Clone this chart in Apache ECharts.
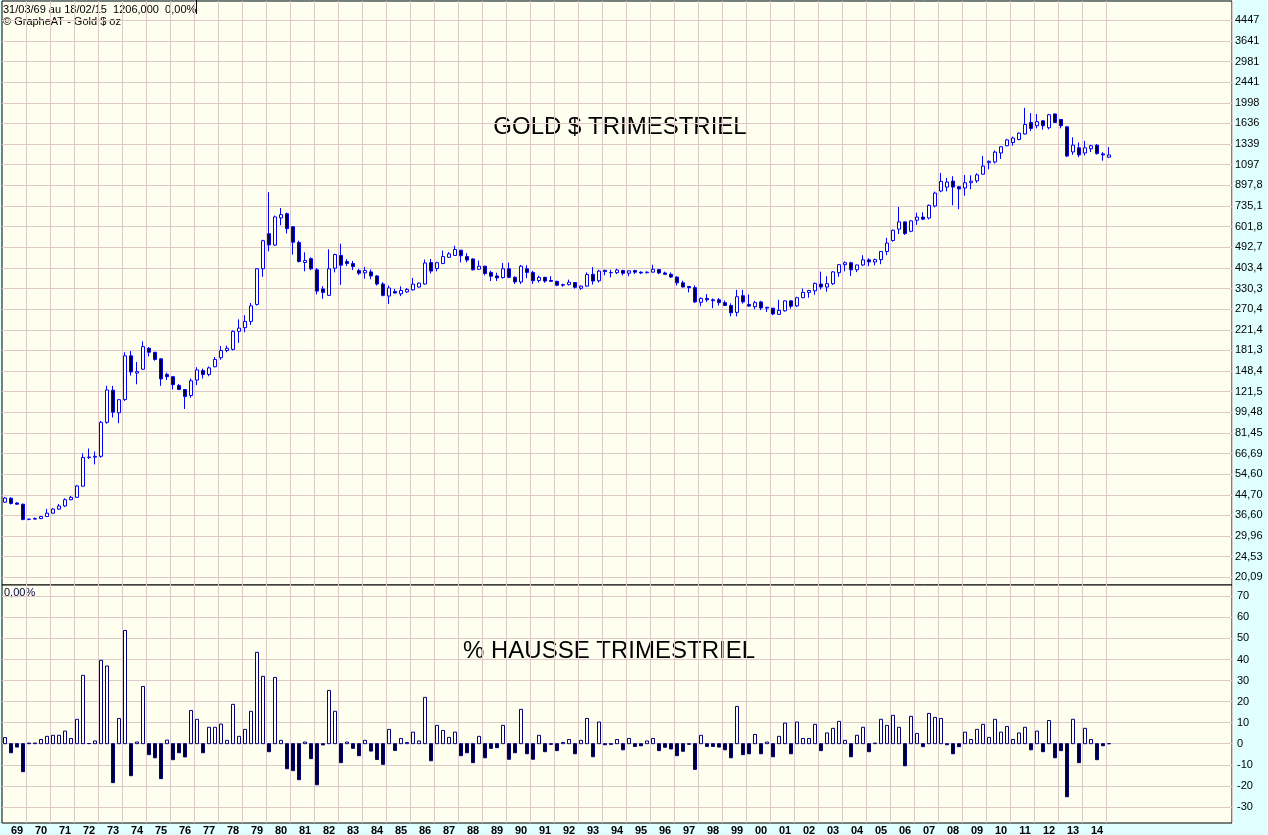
<!DOCTYPE html>
<html><head><meta charset="utf-8">
<script src="https://cdn.jsdelivr.net/npm/echarts@6/dist/echarts.min.js"></script>
<style>html,body{margin:0;padding:0;background:#E0FFFF;}#c{width:1268px;height:835px;}</style>
</head><body><div id="c"></div><script>
// ---- data (quarterly, 1969 Q1 .. 2015 Q1) ----
const yearLabels = ['69','70','71','72','73','74','75','76','77','78','79','80','81','82','83','84','85','86','87','88','89','90','91','92','93','94','95','96','97','98','99','00','01','02','03','04','05','06','07','08','09','10','11','12','13','14'];
const open = [41.6,43.2,41.3,40.8,35.2,35.3,35.5,36.2,37.4,38.9,40.1,42.6,43.6,48.6,64.2,64.4,64.9,90.2,123.3,99.0,112.5,172.0,145.5,151.0,185.0,178.0,167.0,143.6,140.5,129.0,124.0,117.0,136.0,149.0,143.5,154.6,168.8,181.0,183.0,218.0,226.0,240.0,283.0,400.0,562.0,503.0,655.0,682.0,601.0,516.0,425.0,441.0,396.0,329.0,309.0,402.0,455.0,429.0,420.6,393.0,384.4,388.0,373.0,345.0,307.0,321.0,313.6,319.7,326.0,335.0,345.0,425.0,401.0,421.0,447.0,455.0,479.0,450.0,440.0,398.0,410.0,386.0,373.0,367.0,400.0,368.0,352.0,400.0,386.0,357.0,368.0,357.0,354.0,341.0,343.0,350.0,331.0,338.0,379.0,356.0,394.0,385.0,385.0,393.0,383.0,393.0,387.0,385.0,387.0,397.0,384.0,379.0,369.0,349.0,337.0,333.0,289.0,300.0,296.0,296.0,288.0,280.0,262.0,308.0,283.0,277.0,290.0,273.0,273.0,257.0,266.0,293.0,279.0,302.0,318.0,323.0,345.0,335.0,346.0,385.0,416.0,424.0,396.0,415.0,436.0,427.0,437.0,473.0,526.0,587.0,630.0,575.0,640.0,660.0,654.0,735.0,850.0,883.0,936.0,886.0,875.0,921.0,938.0,1000.0,1118.0,1126.0,1229.0,1318.0,1360.0,1401.0,1477.0,1652.0,1600.0,1678.0,1569.0,1795.0,1700.0,1584.0,1241.0,1292.0,1229.0,1280.0,1326.0,1218.0,1180.0];
const high = [43.7,43.7,41.6,41.0,35.5,35.9,36.4,39.0,39.3,40.9,43.2,44.2,49.2,66.8,70.0,68.0,91.5,128.5,128.5,113.0,178.0,180.0,162.0,198.0,187.0,178.5,168.0,146.0,141.0,131.0,124.5,138.0,154.0,152.0,155.0,170.0,189.0,190.0,220.0,245.0,255.0,287.0,402.0,530.0,840.0,670.0,721.0,690.0,605.0,525.0,469.0,447.0,403.0,338.0,483.0,463.0,510.0,439.0,431.6,400.0,407.6,397.0,376.0,351.0,340.0,329.0,337.5,332.0,366.0,350.0,437.0,440.0,428.0,477.0,470.0,500.0,480.0,465.0,442.0,433.0,412.0,393.0,385.0,423.0,425.0,372.0,415.0,414.0,392.0,374.0,370.0,372.0,356.0,346.0,360.0,351.0,340.0,386.0,406.0,396.0,396.0,396.0,400.0,396.0,394.0,396.0,390.0,390.0,416.0,399.0,389.0,386.0,372.0,356.0,337.0,340.0,303.0,313.0,300.0,301.0,294.0,286.0,326.0,326.0,312.0,293.0,293.0,275.0,273.0,296.0,294.0,294.0,305.0,330.0,326.0,350.0,389.0,372.0,391.0,418.0,430.0,428.0,416.0,456.0,443.0,441.0,474.0,540.0,585.0,728.0,632.0,640.0,689.0,691.0,745.0,845.0,1013.0,965.0,981.0,890.0,994.0,990.0,1010.0,1195.0,1144.0,1260.0,1310.0,1410.0,1440.0,1500.0,1904.0,1810.0,1792.0,1690.0,1795.0,1800.0,1700.0,1590.0,1431.0,1361.0,1382.0,1330.0,1340.0,1240.0,1300.0];
const low = [41.4,40.7,40.6,34.9,34.9,35.2,35.3,36.1,37.2,38.7,39.7,42.4,43.4,48.3,63.2,60.0,64.0,89.0,94.5,89.5,111.0,142.0,130.5,150.0,171.0,164.0,128.5,136.0,124.0,123.5,102.7,114.5,129.5,138.0,141.0,154.0,165.5,178.0,181.0,195.0,216.0,232.0,280.0,370.0,473.0,500.0,610.0,563.0,459.0,425.0,390.0,395.0,312.0,299.0,308.0,386.0,342.0,411.0,395.0,376.0,363.0,361.0,340.0,306.0,284.0,315.0,306.7,316.6,324.0,333.0,343.0,382.0,390.0,418.0,445.0,453.0,425.0,426.0,394.0,396.0,375.0,355.0,355.0,364.0,365.0,345.0,345.0,365.0,345.0,350.0,349.0,352.0,338.0,336.0,340.0,330.0,326.0,336.0,343.0,350.0,375.0,368.0,380.0,375.0,372.0,380.0,380.0,382.0,385.0,380.0,377.0,366.0,340.0,334.0,318.0,287.0,278.0,290.0,273.0,280.0,280.0,252.0,252.0,285.0,276.0,270.0,268.0,263.0,255.0,256.0,264.0,272.0,276.0,301.0,302.0,311.0,327.0,320.0,342.0,370.0,390.0,373.0,387.0,411.0,410.0,413.0,418.0,456.0,520.0,560.0,555.0,570.0,612.0,642.0,645.0,725.0,840.0,847.0,740.0,712.0,812.0,865.0,920.0,995.0,1048.0,1110.0,1160.0,1310.0,1318.0,1390.0,1470.0,1519.0,1560.0,1540.0,1545.0,1650.0,1560.0,1180.0,1208.0,1180.0,1200.0,1240.0,1210.0,1140.0,1170.0];
const close = [43.3,41.1,40.8,35.2,35.3,35.5,36.2,37.4,38.9,40.1,42.6,43.6,48.7,64.2,64.4,64.9,90.2,123.5,99.5,112.4,172.0,147.0,147.5,188.0,178.0,166.0,137.5,140.5,130.0,124.0,116.0,135.0,150.0,143.5,153.0,166.0,181.0,185.0,218.0,225.0,240.0,279.0,400.0,525.0,504.0,661.0,676.0,590.0,517.0,429.0,433.0,399.5,322.0,318.0,400.0,459.0,414.0,421.0,408.6,383.0,393.0,373.0,345.0,309.0,332.0,316.0,323.8,327.0,344.6,348.0,423.0,391.0,424.0,450.0,462.0,482.0,454.0,435.0,396.0,410.0,382.0,372.0,366.0,400.0,368.0,352.0,410.0,386.0,356.0,368.0,355.0,354.0,341.0,343.0,351.0,334.0,338.0,378.0,355.0,391.0,389.0,386.0,395.0,383.0,392.0,387.0,384.0,387.0,398.0,384.0,379.0,369.0,349.0,335.0,333.0,290.0,300.0,296.0,293.5,288.0,280.0,261.0,305.0,290.0,278.4,288.0,273.6,275.5,258.0,267.0,293.0,278.0,302.0,318.0,324.0,347.0,335.0,346.0,388.0,416.0,424.0,396.0,415.0,436.0,427.5,437.0,473.0,513.0,581.0,630.0,563.0,636.0,660.0,647.0,740.0,833.0,933.0,927.0,883.0,867.0,921.0,935.0,994.0,1082.0,1133.0,1239.0,1305.0,1395.0,1420.0,1489.0,1620.0,1559.0,1665.0,1600.0,1780.0,1652.0,1600.0,1193.0,1326.0,1206.0,1292.0,1318.0,1222.0,1206.0,1206.0];
const pct = [2.9,-4.3,-1.6,-13.3,0.3,0.3,2.0,3.5,4.0,4.0,6.0,2.5,11.6,32.5,0.1,1.3,39.6,36.9,-18.5,12.0,53.8,-15.2,0.8,27.2,-5.2,-6.7,-16.6,1.7,-7.6,-4.3,-6.3,15.8,11.6,-4.3,7.8,7.8,9.3,1.6,18.7,3.5,6.8,15.4,43.4,32.0,-3.8,31.5,1.6,-11.9,-12.8,-17.1,0.8,-7.1,-19.5,-0.6,25.3,15.4,-9.0,0.8,-2.2,-5.7,1.6,-3.5,-7.5,-9.8,6.8,-3.2,2.5,0.6,5.5,1.3,22.0,-8.1,8.7,6.3,3.0,5.5,-5.7,-4.3,-9.0,3.5,-6.7,-2.2,-1.9,8.7,-7.4,-4.3,16.3,-4.8,-7.4,4.0,-3.8,-0.3,-3.3,0.6,2.0,-4.8,1.6,12.0,-6.2,10.3,-0.5,-0.3,2.0,-2.9,2.5,-1.3,-1.0,1.3,2.5,-3.3,-1.7,-2.5,-5.7,-3.6,-0.3,-12.2,4.0,-1.3,-1.3,-1.6,-2.9,-6.7,17.7,-5.2,-4.8,4.4,-4.8,0.8,-6.2,3.5,9.8,-4.8,10.3,2.5,2.5,9.2,-3.3,5.1,7.3,10.6,1.6,-6.2,4.0,7.8,-3.8,0.3,11.6,8.7,13.5,7.8,-10.5,13.0,4.9,-1.4,14.4,12.5,12.0,-0.5,-4.8,-1.4,5.5,2.0,6.8,9.2,3.0,11.6,5.5,8.2,2.0,5.1,7.8,-2.9,6.0,-3.8,11.0,-6.7,-3.3,-25.2,11.6,-9.0,7.3,2.0,-7.6,-1.0,0.0];
const priceTicks = [20.09,24.53,29.96,36.60,44.70,54.60,66.69,81.45,99.48,121.5,148.4,181.3,221.4,270.4,330.3,403.4,492.7,601.8,735.1,897.8,1097,1339,1636,1998,2441,2981,3641,4447];
const priceTickLabels = ['20,09','24,53','29,96','36,60','44,70','54,60','66,69','81,45','99,48','121,5','148,4','181,3','221,4','270,4','330,3','403,4','492,7','601,8','735,1','897,8','1097','1339','1636','1998','2441','2981','3641','4447'];
const pctTicks = [-30,-20,-10,0,10,20,30,40,50,60,70];
const pctTickLabels = ['-30','-20','-10','0','10','20','30','40','50','60','70'];
const headerLine1 = '31/03/69 au 18/02/15  1206,000  0,00%';
const headerLine2 = '\u00A9 GrapheAT - Gold $ oz';
const title1 = 'GOLD $ TRIMESTRIEL';
const title2 = '% HAUSSE TRIMESTRIEL';
const pctLabel = '0,00%';

// category slots (data run 1969Q1..2015Q1, axis continues empty to the right)
const cats = [];
for (let y = 1969; cats.length < 205; y++) for (let q = 1; q <= 4 && cats.length < 205; q++) cats.push(y + 'T' + q);

const candleData = open.map((o, i) => [o, close[i], low[i], high[i]]);
// percent bars drawn as zero-based bodies (hollow when up, filled when down)
const pctBars = pct.map(p => [0, p, Math.min(0, p), Math.max(0, p)]);
const GRID = '#DCCACA';
const FONT = 'Liberation Sans';
const yearLine = (idx) => idx % 4 === 0 && idx > 0 && idx <= 184;

const chart = echarts.init(document.getElementById('c'), null, {renderer: 'canvas'});
chart.setOption({
  animation: false,
  backgroundColor: '#E0FFFF',
  grid: [
    {left: 2, top: 1, width: 1230, height: 584, show: true, backgroundColor: '#FFFFF0', borderColor: '#000', borderWidth: 1, outerBoundsMode: 'none'},
    {left: 2, top: 585, width: 1230, height: 238, show: true, backgroundColor: '#FFFFF0', borderColor: '#000', borderWidth: 1, outerBoundsMode: 'none'}
  ],
  xAxis: [
    {type: 'category', gridIndex: 0, data: cats, boundaryGap: true,
     axisLine: {show: false}, axisTick: {show: false}, axisLabel: {show: false},
     splitLine: {show: true, interval: yearLine, lineStyle: {color: GRID, width: 1}}},
    {type: 'category', gridIndex: 1, data: cats, boundaryGap: true,
     axisLine: {show: false}, axisTick: {show: false},
     axisLabel: {show: true, interval: (idx) => idx % 4 === 2 && Math.floor(idx / 4) < yearLabels.length,
       formatter: (v, idx) => yearLabels[Math.floor(idx / 4)] || '',
       margin: 2, fontSize: 11, fontWeight: 'bold', fontFamily: FONT, color: '#000'},
     splitLine: {show: true, interval: yearLine, lineStyle: {color: GRID, width: 1}}}
  ],
  yAxis: [
    {type: 'log', gridIndex: 0, position: 'right', logBase: Math.E, min: 18.64, max: 5363,
     axisLine: {show: false}, axisTick: {show: false, customValues: priceTicks},
     axisLabel: {customValues: priceTicks, margin: 3, fontSize: 11, fontFamily: FONT, color: '#000',
       formatter: (v) => { let b = 0; priceTicks.forEach((t, i) => { if (Math.abs(Math.log(t / v)) < Math.abs(Math.log(priceTicks[b] / v))) b = i; }); return priceTickLabels[b]; }},
     splitLine: {show: true, lineStyle: {color: GRID, width: 1}}},
    {type: 'value', gridIndex: 1, position: 'right', min: -37.67, max: 75.39,
     axisLine: {show: false}, axisTick: {show: false, customValues: pctTicks},
     axisLabel: {customValues: pctTicks, margin: 5, fontSize: 11, fontFamily: FONT, color: '#000',
       formatter: (v) => pctTickLabels[pctTicks.indexOf(Math.round(v))] ?? ''},
     splitLine: {show: true, lineStyle: {color: GRID, width: 1}}}
  ],
  series: [
    {type: 'candlestick', xAxisIndex: 0, yAxisIndex: 0, data: candleData, barWidth: 4,
     itemStyle: {color: '#FFFFF0', color0: '#000033', borderColor: '#0000FF', borderColor0: '#0000FF', borderWidth: 1}},
    {type: 'candlestick', name: 'pct', xAxisIndex: 1, yAxisIndex: 1, data: pctBars, barWidth: 4,
     itemStyle: {color: '#FFFFF0', color0: '#000030', borderColor: '#000080', borderColor0: '#000080', borderWidth: 1}}
  ],
  graphic: [
    {type: 'text', left: 3, top: 4, style: {text: headerLine1, font: '11px "Liberation Sans"', fill: '#000'}},
    {type: 'text', left: 3, top: 16, style: {text: headerLine2, font: '11px "Liberation Sans"', fill: '#000'}},
    {type: 'line', shape: {x1: 196.5, y1: 0, x2: 196.5, y2: 14}, style: {stroke: '#000', lineWidth: 1}},
    {type: 'text', x: 620, y: 127, style: {text: title1, font: '24px "Liberation Sans"', fill: '#000', align: 'center', verticalAlign: 'middle'}},
    {type: 'text', x: 609, y: 651, style: {text: title2, font: '24px "Liberation Sans"', fill: '#000', align: 'center', verticalAlign: 'middle'}},
    {type: 'text', left: 4, top: 587, style: {text: pctLabel, font: '11px "Liberation Sans"', fill: '#000040'}}
  ]
});
</script></body></html>
